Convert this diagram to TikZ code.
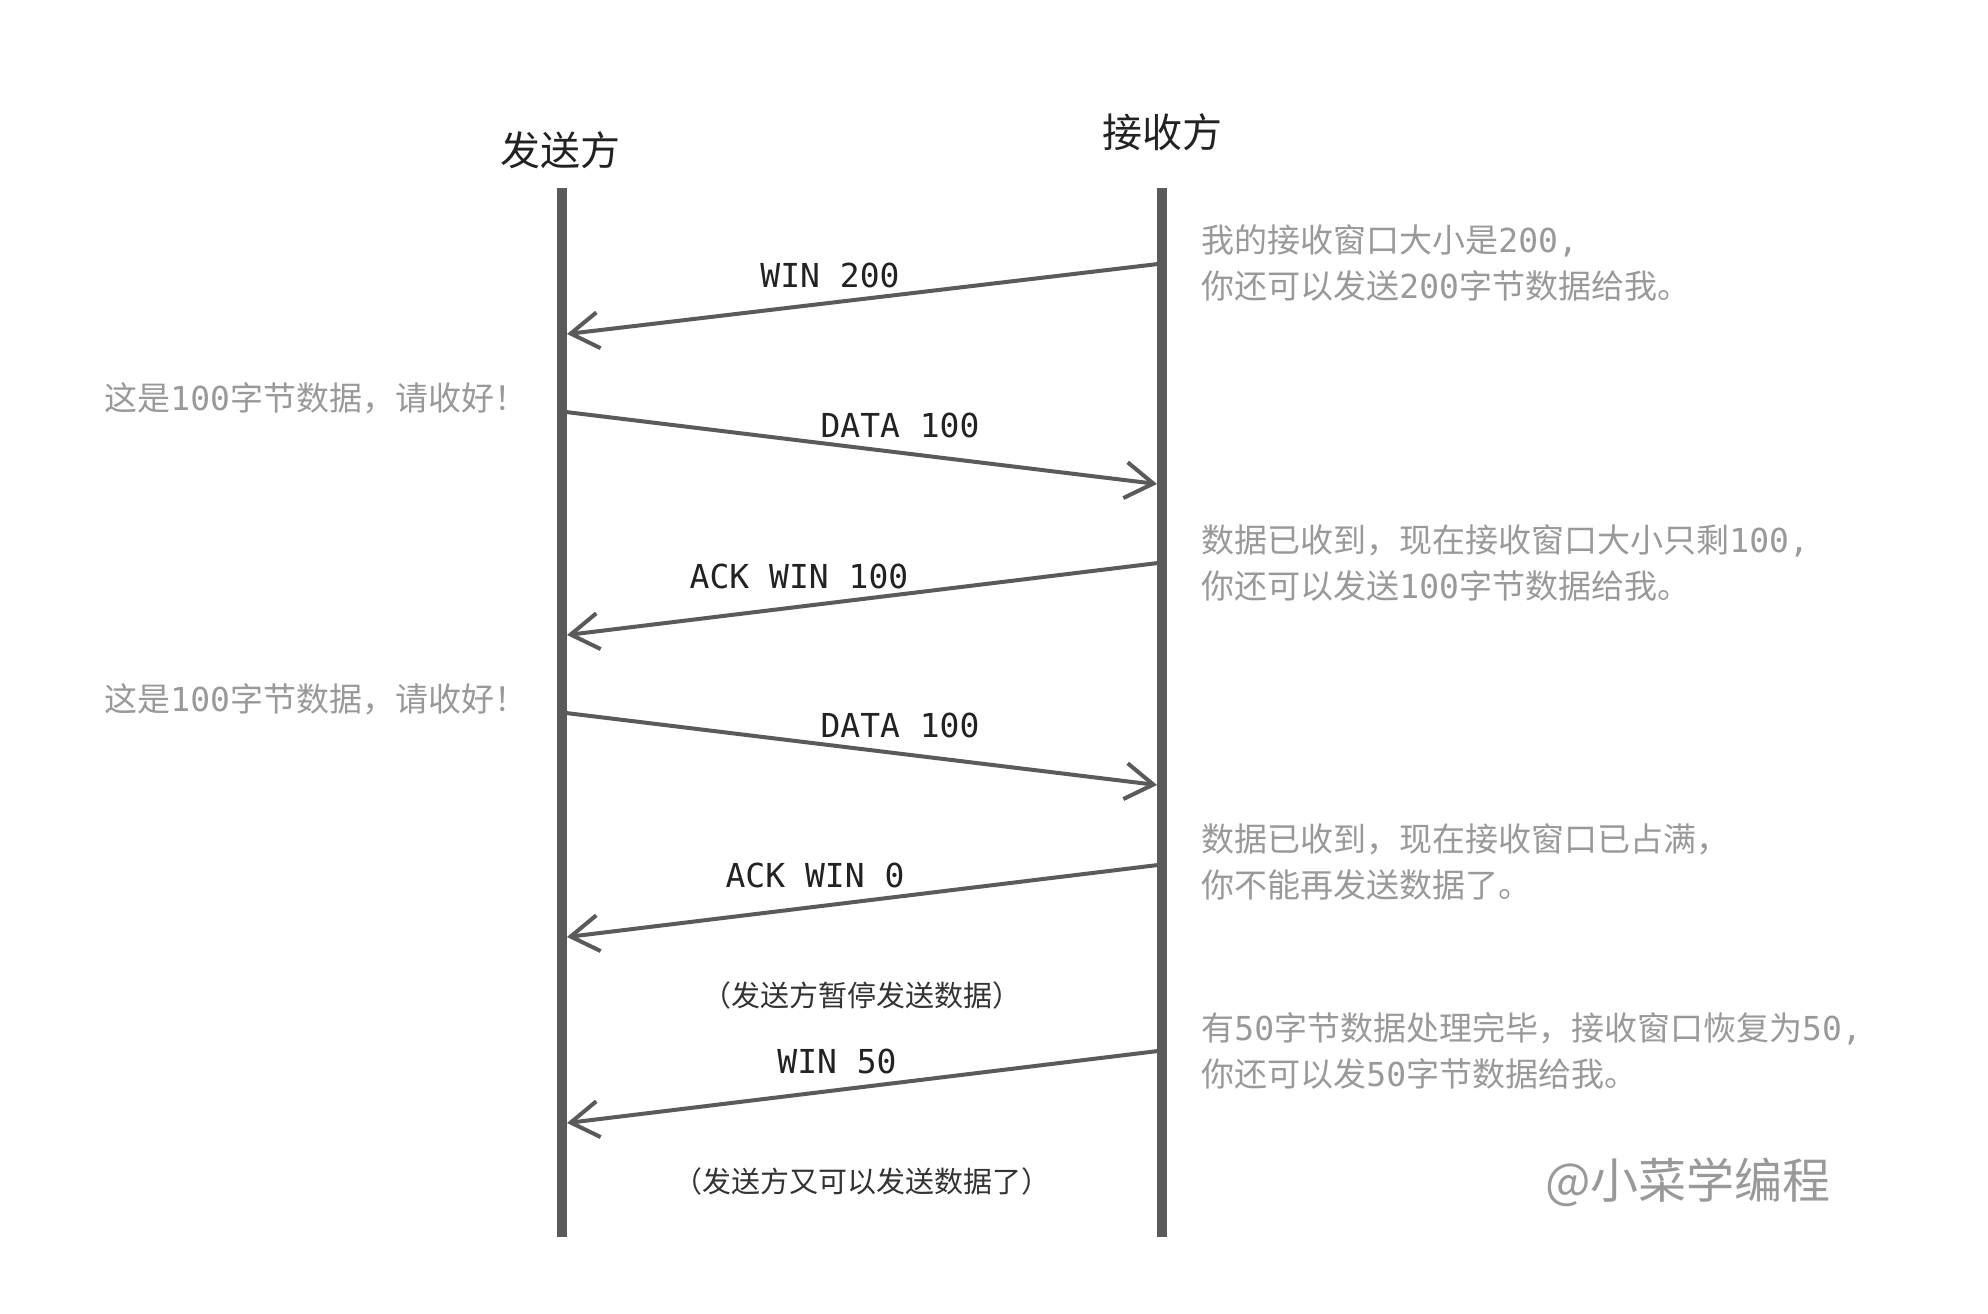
\documentclass[tikz,border=0pt]{standalone}
\usepackage{fontspec}
\setmainfont{Noto Sans CJK SC}
\newfontfamily\mono{DejaVu Sans Mono}
\usetikzlibrary{arrows.meta}
\definecolor{lifecol}{HTML}{5A5A5A}
\definecolor{notecol}{HTML}{999999}
\definecolor{inkcol}{HTML}{222222}
\definecolor{subcol}{HTML}{333333}
\newcommand{\dg}[1]{{\mono #1}}
\begin{document}
\begin{tikzpicture}[x=0.5pt,y=-0.5pt,
  lifeline/.style={line width=5pt, draw=lifecol},
  msg/.style={line width=2pt, draw=lifecol, -{Straight Barb[length=14pt,width=18pt]}},
  msglabel/.style={font=\mono\fontsize{16.5}{20}\selectfont, text=inkcol, inner sep=0pt},
  notetext/.style={font=\fontsize{16.5}{22.8}\selectfont, text=notecol, align=left, anchor=west, inner sep=0pt},
  lefttext/.style={font=\fontsize{16.5}{22.8}\selectfont, text=notecol, anchor=west, inner sep=0pt},
  subtext/.style={font=\fontsize{14.5}{18}\selectfont, text=subcol, inner sep=0pt},
  heading/.style={font=\fontsize{20}{24}\selectfont, text=inkcol, inner sep=0pt}]
\useasboundingbox (0,0) rectangle (1988,1313);
\fill[white] (0,0) rectangle (1988,1313);

% headings
\node[heading] (hs) at (560,150) {发送方};
\node[heading] (hr) at (1162,132) {接收方};

% lifelines
\coordinate (st) at (562,188);
\coordinate (sb) at (562,1237);
\coordinate (rt) at (1162,188);
\coordinate (rb) at (1162,1237);
\draw[lifeline] (st) -- (sb);
\draw[lifeline] (rt) -- (rb);

% message end points
\coordinate (r1) at (1158,264); \coordinate (l1) at (567,334);
\coordinate (l2) at (566,412);  \coordinate (r2) at (1157,484);
\coordinate (r3) at (1158,563); \coordinate (l3) at (567,635);
\coordinate (l4) at (566,713);  \coordinate (r4) at (1157,785);
\coordinate (r5) at (1158,865); \coordinate (l5) at (567,937);
\coordinate (r6) at (1158,1051); \coordinate (l6) at (567,1123);

\draw[msg] (r1) -- (l1);
\draw[msg] (l2) -- (r2);
\draw[msg] (r3) -- (l3);
\draw[msg] (l4) -- (r4);
\draw[msg] (r5) -- (l5);
\draw[msg] (r6) -- (l6);

% message labels
\node[msglabel] (m1) at (830,275) {WIN 200};
\node[msglabel] (m2) at (900,425) {DATA 100};
\node[msglabel] (m3) at (799,576) {ACK WIN 100};
\node[msglabel] (m4) at (900,725) {DATA 100};
\node[msglabel] (m5) at (815,875) {ACK WIN 0};
\node[msglabel] (m6) at (837,1061) {WIN 50};

% left notes
\node[lefttext] (n2) at (104,398) {这是\dg{100}字节数据，请收好！};
\node[lefttext] (n4) at (104,699) {这是\dg{100}字节数据，请收好！};

% right notes
\node[notetext] (n1) at (1201,263) {我的接收窗口大小是\dg{200,}\\你还可以发送\dg{200}字节数据给我。};
\node[notetext] (n3) at (1201,563) {数据已收到，现在接收窗口大小只剩\dg{100,}\\你还可以发送\dg{100}字节数据给我。};
\node[notetext] (n5) at (1201,862) {数据已收到，现在接收窗口已占满，\\你不能再发送数据了。};
\node[notetext] (n6) at (1201,1051) {有\dg{50}字节数据处理完毕，接收窗口恢复为\dg{50,}\\你还可以发\dg{50}字节数据给我。};

% sub notes
\node[subtext] (p1) at (862,995) {（发送方暂停发送数据）};
\node[subtext] (p2) at (862,1181) {（发送方又可以发送数据了）};

% watermark
\node[font=\fontsize{24}{28}\selectfont, text=notecol, inner sep=0pt] (wm) at (1688,1182) {@小菜学编程};
\end{tikzpicture}
\end{document}
